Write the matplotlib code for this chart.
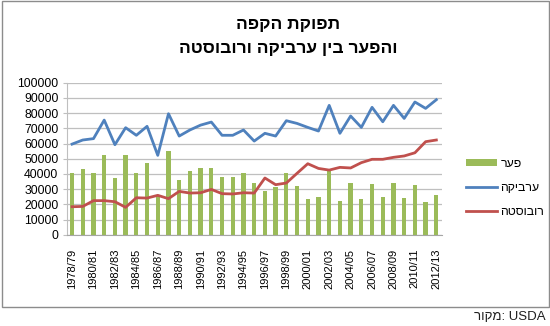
import matplotlib
matplotlib.use("Agg")
import matplotlib.pyplot as plt
from matplotlib.patches import Rectangle, Patch
from matplotlib.lines import Line2D
import numpy as np

plt.rcParams['font.family'] = ['Liberation Sans', 'DejaVu Sans']

# Coffee production seasons and output (thousand 60kg bags)
seasons = [f"{y}/{str(y + 1)[-2:]}" for y in range(1978, 2013)]
arabica = [59600, 62300, 63200, 75400, 59200, 70400, 65400, 71300, 52200, 79600,
           64900, 68900, 72100, 74100, 65400, 65400, 68900, 61600, 66700, 64900,
           75000, 73200, 70600, 68200, 85100, 66700, 78100, 70600, 83800, 74300,
           85100, 76500, 87300, 83100, 88800]
robusta = [18400, 18600, 22400, 22400, 21700, 18000, 24300, 24100, 25900, 23700,
           28500, 27400, 27600, 29800, 27000, 26800, 27600, 27400, 37300, 32900,
           34000, 40400, 46700, 43600, 42500, 44300, 43900, 47400, 49600, 49600,
           50900, 51800, 53900, 61200, 62300]
gap = [40600, 43000, 40400, 52400, 37100, 52400, 40800, 47100, 26300, 55000,
       35700, 41700, 44100, 44100, 37700, 37700, 40600, 33800, 28900, 31600,
       40600, 32200, 23500, 24800, 43000, 22100, 33800, 23500, 33300, 24800,
       33800, 24300, 32700, 21700, 26100]

title_lines = ["תפוקת הקפה", "והפער בין ערביקה ורובוסטה"]
legend_labels = ["פער", "ערביקה", "רובוסטה"]
source_label = "מקור"
source_org = "USDA"


def rtl(s):
    # visual order for right-to-left text
    return s[::-1]


GREEN = "#9BBB59"
BLUE = "#4F81BD"
RED = "#C0504D"
GRID = "#BFBFBF"

W, H = 550, 326
fig = plt.figure(figsize=(W / 100, H / 100), dpi=100)

# chart frame
fig.patches.append(Rectangle((2 / W, 1 - 307 / H), 547 / W, 306 / H,
                             transform=fig.transFigure, fill=False,
                             edgecolor="#8C8C8C", linewidth=1.0, zorder=0))

left, right, top, bottom = 66.7, 441.7, 82.7, 234.7
ax = fig.add_axes([left / W, 1 - bottom / H, (right - left) / W, (bottom - top) / H])

x = np.arange(len(seasons))
ax.bar(x, gap, width=0.4, color=GREEN, zorder=2)
ax.plot(x, arabica, color=BLUE, linewidth=2.0, zorder=3, solid_joinstyle="round")
ax.plot(x, robusta, color=RED, linewidth=2.0, zorder=3, solid_joinstyle="round")

ax.set_xlim(-0.5, len(seasons) - 0.5)
ax.set_ylim(0, 100000)
ax.set_yticks(np.arange(0, 100001, 10000))
ax.set_yticklabels([str(v) for v in range(0, 100001, 10000)], fontsize=8.8)
ax.yaxis.grid(True, color=GRID, linewidth=0.9, zorder=0)
ax.set_axisbelow(True)

ax.set_xticks(x[::2])
ax.set_xticklabels(seasons[::2], rotation=90, fontsize=8, va="top")

for s in ["top", "right"]:
    ax.spines[s].set_visible(False)
ax.spines["left"].set_color(GRID)
ax.spines["bottom"].set_color("#A6A6A6")
ax.tick_params(axis="y", length=3, color=GRID, pad=3)
ax.tick_params(axis="x", length=0, pad=10)

# title
fig.text(288 / W, 1 - 25 / H, rtl(title_lines[0]), ha="center", va="center",
         fontsize=12.5, fontweight="bold")
fig.text(288 / W, 1 - 49 / H, rtl(title_lines[1]), ha="center", va="center",
         fontsize=12.5, fontweight="bold")

# legend
handles = [Patch(facecolor=GREEN, edgecolor="none"),
           Line2D([], [], color=BLUE, linewidth=2.0),
           Line2D([], [], color=RED, linewidth=2.0)]
fig.legend(handles, [rtl(t) for t in legend_labels], loc="center left",
           bbox_to_anchor=(460 / W, 1 - 188 / H), frameon=False, fontsize=8.8,
           handlelength=2.5, handleheight=0.6, handletextpad=0.3,
           labelspacing=1.0, borderpad=0)

# source line
fig.text(546 / W, 1 - 317 / H, rtl(source_label) + ": " + source_org,
         ha="right", va="center", fontsize=9.5, color="#1F1F1F")

fig.savefig("out.png", dpi=100)
